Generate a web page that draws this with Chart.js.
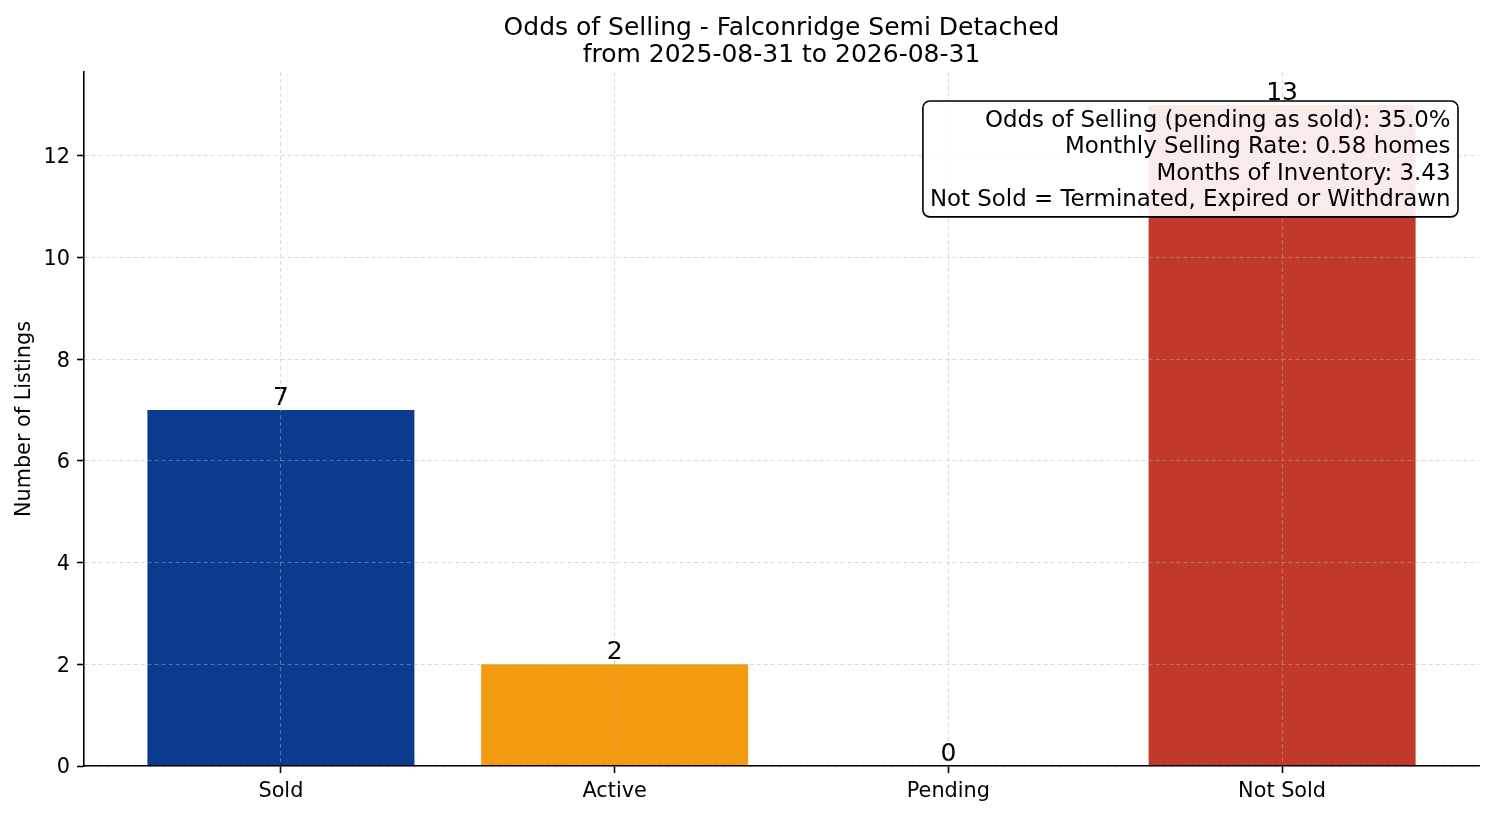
<!DOCTYPE html>
<html>
<head>
<meta charset="utf-8">
<title>Odds of Selling</title>
<script src="https://cdn.jsdelivr.net/npm/chart.js@4"></script>
<style>
  html, body { margin: 0; padding: 0; background: #fff; }
  #wrap { width: 1494px; height: 816px; }
</style>
</head>
<body>
<div id="wrap"><canvas id="oddsChart" width="1494" height="816"></canvas></div>
<script>
// data
const categories = ['Sold', 'Active', 'Pending', 'Not Sold'];
const listingCounts = [7, 2, 0, 13];
const yTickValues = [0, 2, 4, 6, 8, 10, 12];
const titleLines = ['Odds of Selling - Falconridge Semi Detached', 'from 2025-08-31 to 2026-08-31'];
const infoLines = [
  'Odds of Selling (pending as sold): 35.0%',
  'Monthly Selling Rate: 0.58 homes',
  'Months of Inventory: 3.43',
  'Not Sold = Terminated, Expired or Withdrawn'
];

const FONT = "'DejaVu Sans', 'Liberation Sans', sans-serif";
Chart.defaults.font.family = FONT;
Chart.defaults.color = '#000';

// numbers on top of bars
const barLabels = {
  id: 'barLabels',
  afterDatasetsDraw(chart) {
    const ctx = chart.ctx;
    const meta = chart.getDatasetMeta(0);
    ctx.save();
    ctx.font = '25px ' + FONT;
    ctx.fillStyle = '#000';
    ctx.textAlign = 'center';
    ctx.textBaseline = 'alphabetic';
    meta.data.forEach((bar, i) => {
      ctx.fillText(String(listingCounts[i]), bar.x, bar.y - 5);
    });
    ctx.restore();
  }
};

// text box in the upper right corner
const infoBox = {
  id: 'infoBox',
  afterDraw(chart) {
    const ctx = chart.ctx;
    const area = chart.chartArea;
    ctx.save();
    ctx.font = '22.9px ' + FONT;
    let maxW = 0;
    infoLines.forEach(t => { maxW = Math.max(maxW, ctx.measureText(t).width); });
    const right = area.right - 21;
    const top = area.top + 29;
    const textRight = right - 7.5;
    const left = textRight - maxW - 7;
    const lineGap = 26.3;
    const firstBase = top + 26;
    const height = 26 + lineGap * (infoLines.length - 1) + 11;
    ctx.beginPath();
    ctx.roundRect(left, top, right - left, height, 7);
    ctx.fillStyle = 'rgba(255,255,255,0.9)';
    ctx.fill();
    ctx.lineWidth = 1.6;
    ctx.strokeStyle = '#000';
    ctx.stroke();
    ctx.fillStyle = '#000';
    ctx.textAlign = 'right';
    ctx.textBaseline = 'alphabetic';
    infoLines.forEach((t, i) => {
      ctx.fillText(t, textRight, firstBase + i * lineGap);
    });
    ctx.restore();
  }
};

new Chart(document.getElementById('oddsChart'), {
  type: 'bar',
  data: {
    datasets: [{
      data: listingCounts.map((v, i) => ({ x: i, y: v })),
      backgroundColor: ['#0b3b8f', '#f39c12', '#7f7f7f', '#c0392b'],
      borderWidth: 0,
      barPercentage: 0.8,
      categoryPercentage: 1.0
    }]
  },
  options: {
    responsive: false,
    animation: false,
    layout: { padding: { top: 0, right: 15, bottom: 0, left: 0 } },
    plugins: {
      legend: { display: false },
      tooltip: { enabled: false },
      title: {
        display: true,
        fullSize: false,
        text: titleLines,
        color: '#000',
        font: { size: 25, weight: 'normal', lineHeight: 1.08 },
        padding: { top: 15, bottom: 3 }
      }
    },
    scales: {
      x: {
        type: 'linear',
        offset: false,
        min: -0.59,
        max: 3.59,
        afterBuildTicks: (s) => { s.ticks = categories.map((c, i) => ({ value: i })); },
        afterFit: (s) => { s.height = 50; },
        ticks: {
          callback: (v) => categories[v],
          font: { size: 20.8 },
          color: '#000',
          padding: 6,
          maxRotation: 0,
          autoSkip: false
        },
        grid: {
          z: 1,
          offset: false,
          color: 'rgba(176,176,176,0.6)',
          lineWidth: 0.8,
          tickColor: '#000',
          tickWidth: 1.6,
          tickLength: 7,
          tickBorderDash: []
        },
        border: { display: true, color: '#000', width: 1.6, dash: [4, 3], z: 2 }
      },
      y: {
        type: 'linear',
        min: 0,
        max: 13.65,
        afterBuildTicks: (s) => { s.ticks = yTickValues.map(v => ({ value: v })); },
        afterFit: (s) => { s.width = 84; },
        ticks: {
          font: { size: 20.8 },
          color: '#000',
          padding: 7,
          labelOffset: 2
        },
        grid: {
          z: 1,
          color: 'rgba(176,176,176,0.6)',
          lineWidth: 0.8,
          tickColor: '#000',
          tickWidth: 1.6,
          tickLength: 7,
          tickBorderDash: []
        },
        border: { display: true, color: '#000', width: 1.6, dash: [4, 3], z: 2 },
        title: {
          display: true,
          text: 'Number of Listings',
          font: { size: 20.8 },
          color: '#000',
          padding: { top: 12, bottom: 0 }
        }
      }
    }
  },
  plugins: [barLabels, infoBox]
});
</script>
</body>
</html>
